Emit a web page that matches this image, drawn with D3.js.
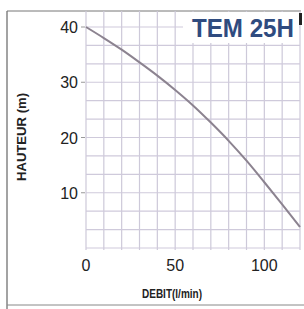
<!DOCTYPE html>
<html>
<head>
<meta charset="utf-8">
<script src="https://cdn.jsdelivr.net/npm/d3@7"></script>
<style>
  html, body { margin: 0; padding: 0; background: #fff; }
  svg { display: block; font-family: "Liberation Sans", Arial, sans-serif; }
</style>
</head>
<body>
<script>
// pump curve TEM 25H
var debit = [0, 10, 20, 30, 40, 50, 60, 70, 80, 90, 100, 110, 120];
var hauteur = [40, 38.0, 35.9, 33.6, 31.2, 28.6, 25.8, 22.7, 19.4, 15.8, 11.9, 7.9, 3.8];
var xTicks = [0, 50, 100];
var yTicks = [10, 20, 30, 40];
var xGrid = d3.range(0, 121, 10);
var yGrid = d3.range(0, 13).map(function(i) { return i * 10 / 3; });

var width = 304, height = 309;
var svg = d3.select("body").append("svg")
    .attr("width", width)
    .attr("height", height);

var x = d3.scaleLinear().domain([0, 120]).range([86, 300]);
var y = d3.scaleLinear().domain([0, 40]).range([248, 27]);
var plotTop = 11;

// outer frame
svg.append("line").attr("x1", 7).attr("x2", 7).attr("y1", 11).attr("y2", 309)
    .attr("stroke", "#666").attr("stroke-width", 1.2);
svg.append("line").attr("x1", 7).attr("x2", 301).attr("y1", 11).attr("y2", 11)
    .attr("stroke", "#777").attr("stroke-width", 1);
svg.append("line").attr("x1", 7).attr("x2", 304).attr("y1", 305).attr("y2", 305)
    .attr("stroke", "#888").attr("stroke-width", 1);

// grid
var grid = svg.append("g").attr("class", "grid");
grid.selectAll(".vx")
    .data(xGrid)
    .enter().append("line")
    .attr("x1", function(d) { return x(d); })
    .attr("x2", function(d) { return x(d); })
    .attr("y1", y(0) + 2)
    .attr("y2", plotTop)
    .attr("stroke", "#cdc9d9")
    .attr("stroke-width", 1.2);
grid.selectAll(".hy")
    .data(yGrid)
    .enter().append("line")
    .attr("x1", x(0))
    .attr("x2", x(120))
    .attr("y1", function(d) { return y(d); })
    .attr("y2", function(d) { return y(d); })
    .attr("stroke", "#cfcadb")
    .attr("stroke-width", 1.2);

// white box behind title
svg.append("rect")
    .attr("x", 183).attr("y", 12)
    .attr("width", 116).attr("height", 31)
    .attr("fill", "#fff");
svg.append("rect")
    .attr("x", 299).attr("y", 13)
    .attr("width", 3).attr("height", 12)
    .attr("fill", "#222");

svg.append("text")
    .attr("x", 294)
    .attr("y", 37)
    .attr("text-anchor", "end")
    .attr("font-size", 25)
    .attr("font-weight", "bold")
    .attr("fill", "#2f4b7f")
    .attr("textLength", 102)
    .attr("lengthAdjust", "spacingAndGlyphs")
    .text("TEM 25H");

// curve
var line = d3.line()
    .x(function(d, i) { return x(debit[i]); })
    .y(function(d) { return y(d); })
    .curve(d3.curveMonotoneX);

svg.append("path")
    .datum(hauteur)
    .attr("d", line)
    .attr("fill", "none")
    .attr("stroke", "#8c8390")
    .attr("stroke-width", 2);

// y tick labels
svg.selectAll(".ytick")
    .data(yTicks)
    .enter().append("text")
    .attr("x", 78)
    .attr("y", function(d) { return y(d) + 6; })
    .attr("text-anchor", "end")
    .attr("font-size", 16)
    .attr("fill", "#222")
    .text(function(d) { return d; });
svg.selectAll(".ymark")
    .data(yTicks)
    .enter().append("line")
    .attr("x1", 81).attr("x2", 85)
    .attr("y1", function(d) { return y(d); })
    .attr("y2", function(d) { return y(d); })
    .attr("stroke", "#999");

// x tick labels
svg.selectAll(".xtick")
    .data(xTicks)
    .enter().append("text")
    .attr("x", function(d) { return x(d); })
    .attr("y", 271)
    .attr("text-anchor", "middle")
    .attr("font-size", 16)
    .attr("fill", "#222")
    .text(function(d) { return d; });

// axis titles
svg.append("text")
    .attr("transform", "translate(26,137) rotate(-90)")
    .attr("text-anchor", "middle")
    .attr("font-size", 12)
    .attr("font-weight", "bold")
    .attr("fill", "#222")
    .attr("textLength", 88)
    .attr("lengthAdjust", "spacingAndGlyphs")
    .text("HAUTEUR (m)");

svg.append("text")
    .attr("x", 172)
    .attr("y", 298)
    .attr("text-anchor", "middle")
    .attr("font-size", 12)
    .attr("font-weight", "bold")
    .attr("fill", "#222")
    .attr("textLength", 60)
    .attr("lengthAdjust", "spacingAndGlyphs")
    .text("DEBIT(l/min)");
</script>
</body>
</html>
